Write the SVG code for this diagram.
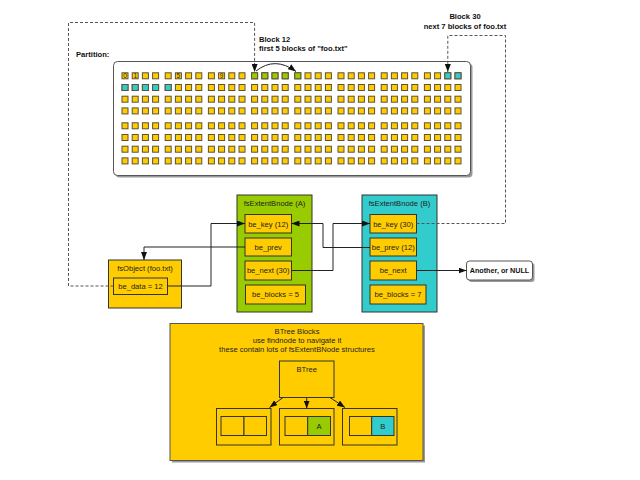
<svg xmlns="http://www.w3.org/2000/svg" xmlns:xlink="http://www.w3.org/1999/xlink" width="640" height="480" viewBox="0 0 640 480">
<style>
.t{font-family:"Liberation Sans",Arial,sans-serif;font-size:7.6px;fill:#222}
.b{font-weight:bold;fill:#111}
.m{text-anchor:middle}
.sq{fill:#FFCC00;stroke:#5e5236;stroke-width:1}
.gr{fill:#99CC00}
.cy{fill:#33CCCC}
.box{stroke:#333;stroke-width:1}
.y{fill:#FFCC00}
.sh{fill:#999}
.ln{fill:none;stroke:#222;stroke-width:1}
.ds{fill:none;stroke:#555;stroke-width:1;stroke-dasharray:3,2}
.lbl{font-family:"Liberation Sans",Arial,sans-serif;font-size:6.5px;fill:#222;text-anchor:middle}
</style>
<defs>
<marker id="ah" markerUnits="userSpaceOnUse" markerWidth="8" markerHeight="6" refX="8" refY="3" orient="auto">
<path d="M0,0 L8,3 L0,6 z" fill="#111"/>
</marker>
<rect id="sq" width="6" height="6" class="sq"/>
<g id="row">
<use href="#sq" x="122"/><use href="#sq" x="132.2"/><use href="#sq" x="142.4"/><use href="#sq" x="152.6"/>
<use href="#sq" x="165.2"/><use href="#sq" x="175.4"/><use href="#sq" x="185.6"/><use href="#sq" x="195.8"/>
<use href="#sq" x="208.4"/><use href="#sq" x="218.6"/><use href="#sq" x="228.8"/><use href="#sq" x="239"/>
<use href="#sq" x="251.6"/><use href="#sq" x="261.8"/><use href="#sq" x="272"/><use href="#sq" x="282.2"/>
<use href="#sq" x="294.8"/><use href="#sq" x="305"/><use href="#sq" x="315.2"/><use href="#sq" x="325.4"/>
<use href="#sq" x="338"/><use href="#sq" x="348.2"/><use href="#sq" x="358.4"/><use href="#sq" x="368.6"/>
<use href="#sq" x="381.2"/><use href="#sq" x="391.4"/><use href="#sq" x="401.6"/><use href="#sq" x="411.8"/>
<use href="#sq" x="424.4"/><use href="#sq" x="434.6"/><use href="#sq" x="444.8"/><use href="#sq" x="455"/>
</g>
</defs>
<rect width="640" height="480" fill="#fff"/>

<g id="partition">
<rect x="115.5" y="63.5" width="357" height="114" rx="4" class="sh"/>
<rect x="113.5" y="61.5" width="357" height="114" rx="4" fill="#fff" stroke="#555"/>
<text x="76" y="57" class="t b">Partition:</text>
<use href="#row" y="72.8"/>
<use href="#row" y="84.5"/>
<use href="#row" y="96.2"/>
<use href="#row" y="107.9"/>
<use href="#row" y="122.8"/>
<use href="#row" y="134.5"/>
<use href="#row" y="146.2"/>
<use href="#row" y="157.9"/>
<rect x="251.6" y="72.8" width="6" height="6" class="sq gr"/>
<rect x="261.8" y="72.8" width="6" height="6" class="sq gr"/>
<rect x="272" y="72.8" width="6" height="6" class="sq gr"/>
<rect x="282.2" y="72.8" width="6" height="6" class="sq gr"/>
<rect x="294.8" y="72.8" width="6" height="6" class="sq gr"/>
<rect x="444.8" y="72.8" width="6" height="6" class="sq cy"/>
<rect x="455" y="72.8" width="6" height="6" class="sq cy"/>
<rect x="122" y="84.5" width="6" height="6" class="sq cy"/>
<rect x="132.2" y="84.5" width="6" height="6" class="sq cy"/>
<rect x="142.4" y="84.5" width="6" height="6" class="sq cy"/>
<rect x="152.6" y="84.5" width="6" height="6" class="sq cy"/>
<rect x="165.2" y="84.5" width="6" height="6" class="sq cy"/>
<text x="125" y="78.4" class="lbl">0</text>
<text x="135.2" y="78.4" class="lbl">1</text>
<text x="178.4" y="78.4" class="lbl">5</text>
<text x="221.6" y="78.4" class="lbl">9</text>
<text x="259" y="42" class="t b">Block 12</text>
<text x="259" y="51" class="t b">first 5 blocks of "foo.txt"</text>
<text x="465" y="19" class="t b m">Block 30</text>
<text x="465" y="28.5" class="t b m">next 7 blocks of foo.txt</text>
</g>

<g id="fsObject">
<rect x="108.5" y="260" width="73" height="48" class="box y"/>
<text x="145" y="271" class="t m">fsObject (foo.txt)</text>
<rect x="113.5" y="278" width="54" height="16.5" class="box y"/>
<text x="140.5" y="289" class="t m">be_data = 12</text>
</g>

<g id="extentA">
<rect x="237" y="195" width="75" height="117" class="box gr"/>
<text x="274.5" y="206" class="t m">fsExtentBnode (A)</text>
<rect x="245" y="214.5" width="46.5" height="18.5" class="box y"/>
<text x="268.2" y="226.5" class="t m">be_key (12)</text>
<rect x="245" y="238" width="46.5" height="18" class="box y"/>
<text x="268.2" y="249.7" class="t m">be_prev</text>
<rect x="245" y="261" width="46.5" height="19" class="box y"/>
<text x="268.2" y="273.2" class="t m">be_next (30)</text>
<rect x="245.5" y="285" width="60" height="19" class="box y"/>
<text x="275.5" y="297.2" class="t m">be_blocks = 5</text>
</g>

<g id="extentB">
<rect x="362" y="195" width="75" height="117" class="box cy"/>
<text x="399.5" y="206" class="t m">fsExtentBnode (B)</text>
<rect x="370" y="214.5" width="46.5" height="18.5" class="box y"/>
<text x="393.2" y="226.5" class="t m">be_key (30)</text>
<rect x="370" y="238" width="46.5" height="18" class="box y"/>
<text x="393.2" y="249.7" class="t m">be_prev (12)</text>
<rect x="370" y="261" width="46.5" height="19" class="box y"/>
<text x="393.2" y="273.2" class="t m">be_next</text>
<rect x="370" y="285" width="56" height="19" class="box y"/>
<text x="398" y="297.2" class="t m">be_blocks = 7</text>
</g>

<g id="another">
<rect x="468.5" y="263" width="66" height="19" rx="3" class="sh"/>
<rect x="466.5" y="261" width="66" height="19" rx="3" fill="#fff" stroke="#555"/>
<text x="499.5" y="273.2" class="t b m" style="font-size:7.2px">Another, or NULL</text>
</g>

<g id="btreeBlocks">
<rect x="172" y="325.5" width="253" height="137" class="sh"/>
<rect x="170" y="323.5" width="253" height="137" fill="#FFCC00" stroke="#555"/>
<text x="297" y="334" class="t m">BTree Blocks</text>
<text x="297" y="343.3" class="t m">use findnode to navigate it</text>
<text x="297" y="352.3" class="t m">these contain lots of fsExtentBNode structures</text>
</g>

<g id="btree">
<rect x="279.5" y="361" width="54.5" height="36.5" class="box y"/>
<text x="306.7" y="372" class="t m">BTree</text>
</g>

<g id="leafL">
<rect x="216.5" y="408.5" width="54.5" height="36.5" class="box y"/>
<rect x="221" y="416.5" width="23" height="19" class="box y"/>
<rect x="244" y="416.5" width="22.5" height="19" class="box y"/>
</g>

<g id="leafA">
<rect x="279.5" y="408.5" width="54.5" height="36.5" class="box y"/>
<rect x="285" y="416.5" width="22.7" height="19" class="box y"/>
<rect x="307.7" y="416.5" width="22.8" height="19" class="box gr"/>
<text x="319" y="428.5" class="t m">A</text>
</g>

<g id="leafB">
<rect x="342.5" y="408.5" width="54.5" height="36.5" class="box y"/>
<rect x="349.5" y="416.5" width="22.2" height="19" class="box y"/>
<rect x="371.7" y="416.5" width="22.3" height="19" class="box cy"/>
<text x="382.8" y="428.5" class="t m">B</text>
</g>

<g id="connectors">
<path d="M256,71 Q275,56 296,71.5" class="ln" marker-end="url(#ah)"/>
<path d="M113.5,286 H68.5 V22.5 H254.6 V72" class="ds" marker-end="url(#ah)"/>
<path d="M416.5,223.5 H505.5 V35.5 H447.8 V72" class="ds" marker-end="url(#ah)"/>
<path d="M167.5,286 H211 V223.5 H245" class="ln" marker-end="url(#ah)"/>
<path d="M245,247 H144 V260" class="ln" marker-end="url(#ah)"/>
<path d="M291.5,270.5 H333 V223.5 H370" class="ln" marker-end="url(#ah)"/>
<path d="M370,247.5 H323 V223.5 H291.5" class="ln" marker-end="url(#ah)"/>
<path d="M416.5,270.5 H466.5" class="ln" marker-end="url(#ah)"/>
<path d="M283,397.5 L269.5,407.5" class="ln" marker-end="url(#ah)"/>
<path d="M306.7,397.5 V408.5" class="ln" marker-end="url(#ah)"/>
<path d="M330,397.5 L345,407.5" class="ln" marker-end="url(#ah)"/>
</g>
</svg>
